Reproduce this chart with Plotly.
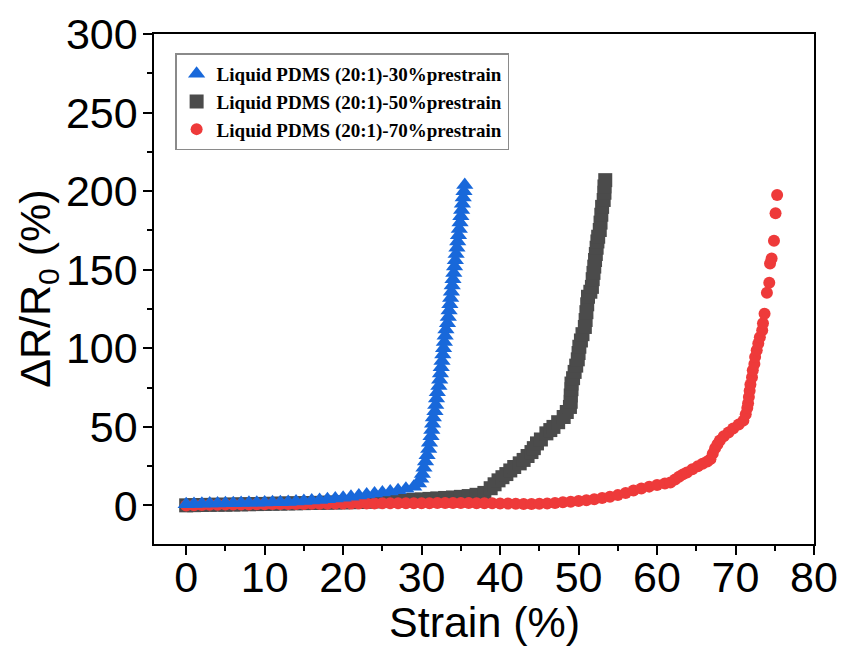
import plotly.graph_objects as go

# Relative resistance change vs. strain for three prestrain levels
names = [
    "Liquid PDMS (20:1)-30%prestrain",
    "Liquid PDMS (20:1)-50%prestrain",
    "Liquid PDMS (20:1)-70%prestrain",
]

strain_30 = [0, 1, 2, 3, 4, 5, 6, 7, 8, 9, 10, 11, 12, 13, 14, 15, 16, 17, 18, 19,
             20, 21, 22, 23, 24, 25, 26, 27, 28, 29,
             29.6, 29.9, 30.1, 30.3, 30.5, 30.7, 30.9, 31.0, 31.2, 31.3, 31.4, 31.5,
             31.7, 31.8, 31.9, 32.0, 32.2, 32.3, 32.4, 32.5, 32.6, 32.7, 32.8, 32.9,
             33.0, 33.1, 33.3, 33.4, 33.5, 33.6, 33.7, 33.8, 33.9, 34.0, 34.1, 34.2,
             34.3, 34.4, 34.5, 34.6, 34.7, 34.8, 34.9, 35.0, 35.1, 35.2, 35.3, 35.4, 35.5]
resist_30 = [0.8, 1.0, 1.1, 1.2, 1.3, 1.4, 1.5, 1.6, 1.7, 1.8, 1.9, 2.0, 2.1, 2.3, 2.5,
             2.8, 3.1, 3.5, 3.9, 4.4, 5.0, 5.6, 6.3, 7.0, 7.6, 8.2, 8.9, 9.7, 10.6, 12.0,
             14, 17, 20, 24, 28, 32, 36, 40, 44, 48, 52, 56,
             60, 64, 68, 72, 76, 80, 84, 88, 92, 96, 100, 104,
             108, 112, 116, 120, 124, 128, 132, 136, 140, 144, 148, 152,
             156, 160, 164, 168, 172, 176, 180, 184, 188, 192, 196, 200, 204]

strain_50 = [0, 1, 2, 3, 4, 5, 6, 7, 8, 9, 10, 11, 12, 13, 14, 15, 16, 17, 18, 19,
             20, 21, 22, 23, 24, 25, 26, 27, 28, 29, 30, 31, 32, 33, 34, 35, 36, 37, 38,
             38.8, 39.3, 39.8, 40.3, 40.8, 41.3, 41.8, 42.5, 43.0, 43.5, 44.0, 44.3,
             44.7, 45.2, 45.9, 46.4, 46.8, 47.4, 48.1, 48.5, 48.9, 49.0, 49.0, 49.1,
             49.1, 49.3, 49.5, 49.7, 49.9, 50.0, 50.1, 50.3, 50.5, 50.8, 50.9, 51.0,
             51.1, 51.2, 51.5, 51.7, 51.8, 51.9, 52.0, 52.1, 52.2, 52.3, 52.4, 52.5,
             52.7, 52.8, 52.9, 53.0, 53.2, 53.3, 53.3, 53.4]
resist_50 = [0.1, 0.2, 0.3, 0.4, 0.5, 0.5, 0.6, 0.7, 0.8, 0.9, 1.0, 1.1, 1.2, 1.3, 1.4,
             1.5, 1.6, 1.7, 1.8, 1.9, 2.0, 2.1, 2.2, 2.4, 2.6, 2.8, 3.0, 3.2, 3.4, 3.6,
             3.9, 4.2, 4.5, 4.8, 5.1, 5.5, 6.0, 6.8, 8.0,
             11, 13.5, 16, 18, 20, 22.3, 24.5, 26.8, 29, 31.5, 34, 36.5,
             39.5, 42, 45.9, 48, 50, 53, 56.3, 59.5, 62.7, 66, 70, 74,
             77.6, 81, 85, 89, 93, 97, 101, 105, 109, 113.6, 118, 123,
             128, 132.8, 136, 139.1, 144, 148, 152, 156.2, 160, 164, 168, 171,
             175.3, 180, 185, 190, 194.4, 199, 203, 207]

strain_70 = [0, 1, 2, 3, 4, 5, 6, 7, 8, 9, 10, 11, 12, 13, 14, 15, 16, 17, 18, 19,
             20, 21, 22, 23, 24, 25, 26, 27, 28, 29, 30, 31, 32, 33, 34, 35, 36, 37, 38,
             39, 40, 41, 42, 43, 44, 45, 46, 47, 48, 49, 50,
             51, 52, 53, 54, 55, 56, 57, 58, 59, 60, 61, 61.7, 62.3, 62.8, 63.3, 63.8,
             64.5, 65.2, 65.8, 66.4, 66.8, 67.1, 67.4, 67.7, 68.0, 68.5, 69.1, 69.7,
             70.4, 71.0, 71.3, 71.5, 71.6, 71.7, 71.8, 71.9, 72.1, 72.2, 72.4, 72.5,
             72.7, 72.9, 73.1, 73.4, 73.5, 73.7,
             74.0, 74.3, 74.4, 74.6, 74.9, 75.1, 75.3]
resist_70 = [0.0, 0.2, 0.3, 0.4, 0.5, 0.6, 0.6, 0.7, 0.7, 0.8, 0.8, 0.9, 0.9, 1.0, 1.0,
             1.0, 1.1, 1.1, 1.1, 1.2, 1.2, 1.2, 1.3, 1.3, 1.3, 1.4, 1.4, 1.4, 1.5, 1.5,
             1.5, 1.5, 1.6, 1.6, 1.6, 1.6, 1.6, 1.5, 1.5, 1.4, 1.3, 1.2, 1.1, 1.0, 1.0,
             1.1, 1.3, 1.6, 2.0, 2.4, 2.9,
             3.4, 4.0, 4.7, 5.5, 6.6, 8.0, 9.6, 10.8, 12.0, 13.0, 14.0, 14.6, 16.5, 18.3,
             19.8, 21, 23, 25, 26.5, 28, 29.5, 33, 36.5, 39, 41.4, 44, 46.5, 49,
             51.5, 54, 58, 62, 65, 69, 73, 77, 81.6, 86, 90, 94.5,
             98.8, 103, 107, 111.5, 116, 122,
             135.3, 141.7, 154, 157.2, 168.5, 185.9, 197.6]

x_ticks = [0, 10, 20, 30, 40, 50, 60, 70, 80]
y_ticks = [0, 50, 100, 150, 200, 250, 300]

colors = ["#1868da", "#4b4b4b", "#ee3a3a"]
symbols = ["triangle-up", "square", "circle"]
sizes = [15, 14, 12]

series = [(strain_30, resist_30), (strain_50, resist_50), (strain_70, resist_70)]

fig = go.Figure()
# draw the 50% and 70% series first so the 30% triangles sit on top
for i in [1, 2, 0]:
    xs, ys = series[i]
    fig.add_trace(go.Scatter(
        x=xs, y=ys, mode="markers", name=names[i], legendrank=i + 1,
        marker=dict(symbol=symbols[i], color=colors[i], size=sizes[i],
                    line=dict(width=0)),
    ))

axis_font = dict(family="Liberation Sans, Arial, sans-serif", size=43, color="black")

fig.update_layout(
    width=844, height=646,
    margin=dict(l=154, r=30, t=34, b=102),
    paper_bgcolor="white", plot_bgcolor="white",
    showlegend=True,
    legend=dict(
        x=0.032, y=0.962, xanchor="left", yanchor="top",
        bgcolor="white", bordercolor="#8a8a8a", borderwidth=1.5,
        font=dict(family="Liberation Serif, Times New Roman, serif", size=19,
                  color="black", weight="bold"),
        itemsizing="trace", tracegroupgap=0,
    ),
    xaxis=dict(
        range=[-4.1, 80], tickvals=x_ticks, ticktext=[str(v) for v in x_ticks],
        showline=True, linecolor="black", linewidth=1.5, mirror=True,
        ticks="outside", ticklen=9, tickwidth=1.5, tickcolor="black",
        minor=dict(dtick=5, tick0=0, ticks="outside", ticklen=5, tickwidth=1.5,
                   tickcolor="black", showgrid=False),
        showgrid=False, zeroline=False, tickfont=axis_font, automargin=False,
        ticklabelstandoff=-14,
    ),
    yaxis=dict(
        range=[-24.5, 300], tickvals=y_ticks, ticktext=[str(v) for v in y_ticks],
        showline=True, linecolor="black", linewidth=1.5, mirror=True,
        ticks="outside", ticklen=9, tickwidth=1.5, tickcolor="black",
        minor=dict(dtick=25, tick0=0, ticks="outside", ticklen=5, tickwidth=1.5,
                   tickcolor="black", showgrid=False),
        showgrid=False, zeroline=False, tickfont=axis_font, automargin=False,
        ticklabelstandoff=-3,
    ),
    annotations=[
        dict(text="ΔR/R<sub>0</sub> (%)", font=axis_font, textangle=-90,
             xref="paper", yref="paper", x=-0.176, y=0.5,
             xanchor="center", yanchor="middle", showarrow=False),
        dict(text="Strain (%)", font=axis_font,
             xref="paper", yref="paper", x=0.5, y=-0.153,
             xanchor="center", yanchor="middle", showarrow=False),
    ],
)

fig.write_html("out.html")
